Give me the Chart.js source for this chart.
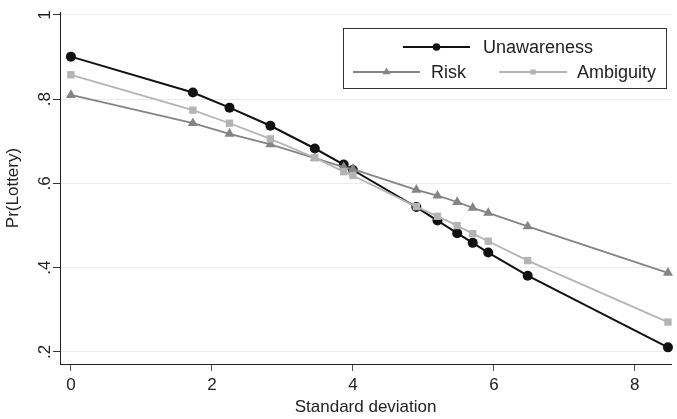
<!DOCTYPE html>
<html><head><meta charset="utf-8">
<script src="https://cdn.jsdelivr.net/npm/chart.js@4.4.1/dist/chart.umd.min.js"></script>
<style>html,body{margin:0;padding:0;background:#fff;overflow:hidden}canvas{display:block}</style>
</head><body>
<canvas id="c" width="677" height="419"></canvas>
<script>
// ---- data ----
const sdValues    = [0, 1.73, 2.25, 2.83, 3.46, 3.87, 4.00, 4.90, 5.20, 5.48, 5.70, 5.92, 6.48, 8.47];
const unawareness = [0.901, 0.816, 0.780, 0.737, 0.683, 0.645, 0.632, 0.544, 0.512, 0.482, 0.459, 0.436, 0.381, 0.211];
const risk        = [0.810, 0.743, 0.718, 0.693, 0.660, 0.639, 0.634, 0.585, 0.571, 0.556, 0.542, 0.530, 0.498, 0.388];
const ambiguity   = [0.858, 0.774, 0.743, 0.706, 0.661, 0.628, 0.619, 0.545, 0.522, 0.500, 0.481, 0.463, 0.417, 0.271];
const seriesNames = ['Unawareness', 'Risk', 'Ambiguity'];
const xTicks = [0, 2, 4, 6, 8];
const yTicks = [0.2, 0.4, 0.6, 0.8, 1];
const yTickLabels = ['.2', '.4', '.6', '.8', '1'];
const xTitle = 'Standard deviation';
const yTitle = 'Pr(Lottery)';

const FONT = "'Liberation Sans', Arial, sans-serif";
const TXT = '#222';

function pts(ys) { return sdValues.map((x, i) => ({x: x, y: ys[i]})); }

const legendPlugin = {
  id: 'boxLegend',
  afterDraw(chart) {
    const ctx = chart.ctx;
    const ds = chart.data.datasets;
    ctx.save();
    const bx = 343.5, by = 28.5, bw = 323, bh = 60;
    ctx.fillStyle = '#fff';
    ctx.fillRect(bx, by, bw, bh);
    ctx.strokeStyle = '#333';
    ctx.lineWidth = 1;
    ctx.strokeRect(bx, by, bw, bh);
    const items = [
      {i: 0, x1: 403, x2: 470, y: 47, tx: 483, r: 3.8},
      {i: 1, x1: 353, x2: 420, y: 72, tx: 431, r: 4.6},
      {i: 2, x1: 499, x2: 567, y: 72, tx: 577, r: 3.6}
    ];
    items.forEach(it => {
      const d = ds[it.i];
      ctx.strokeStyle = d.borderColor;
      ctx.lineWidth = d.borderWidth;
      ctx.beginPath();
      ctx.moveTo(it.x1, it.y);
      ctx.lineTo(it.x2, it.y);
      ctx.stroke();
      ctx.fillStyle = d.pointBackgroundColor;
      Chart.helpers.drawPoint(ctx, {pointStyle: d.pointStyle, radius: it.r, borderWidth: 0, rotation: 0}, (it.x1 + it.x2) / 2, it.y);
      ctx.fillStyle = TXT;
      ctx.font = '18px ' + FONT;
      ctx.textAlign = 'left';
      ctx.textBaseline = 'middle';
      ctx.fillText(d.label, it.tx, it.y + 1);
    });
    ctx.restore();
  }
};

new Chart(document.getElementById('c'), {
  type: 'line',
  data: {
    datasets: [
      {label: seriesNames[0], data: pts(unawareness), borderColor: '#111', borderWidth: 2,
       pointStyle: 'circle', pointRadius: 5, pointBorderWidth: 0, pointBackgroundColor: '#111', order: 3},
      {label: seriesNames[1], data: pts(risk), borderColor: '#848484', borderWidth: 1.8,
       pointStyle: 'triangle', pointRadius: 5.8, pointBorderWidth: 0, pointBackgroundColor: '#848484', order: 2},
      {label: seriesNames[2], data: pts(ambiguity), borderColor: '#b4b4b4', borderWidth: 1.8,
       pointStyle: 'rect', pointRadius: 5.2, pointBorderWidth: 0, pointBackgroundColor: '#b4b4b4', order: 1}
    ]
  },
  options: {
    responsive: false,
    animation: false,
    clip: false,
    layout: {padding: {top: 12, right: 0, left: 0, bottom: 0}},
    plugins: {legend: {display: false}, tooltip: {enabled: false}},
    elements: {line: {tension: 0}},
    scales: {
      x: {
        type: 'linear',
        min: -0.155, max: 8.516,
        afterBuildTicks: s => { s.ticks = xTicks.map(v => ({value: v})); },
        afterFit: s => { s.height = 55; },
        ticks: {color: TXT, font: {family: FONT, size: 17}, padding: 4, maxRotation: 0,
                callback: v => String(v)},
        grid: {drawOnChartArea: false, drawTicks: true, tickLength: 7, tickColor: '#555', tickWidth: 1},
        border: {display: true, color: '#222', width: 1},
        title: {display: true, text: xTitle, color: TXT, font: {family: FONT, size: 17},
                padding: {top: 0, bottom: 1}}
      },
      y: {
        type: 'linear',
        min: 0.1715, max: 1.007,
        afterBuildTicks: s => { s.ticks = yTicks.map(v => ({value: v})); },
        afterFit: s => { s.width = 60; },
        ticks: {color: TXT, font: {family: FONT, size: 17}, padding: 1, minRotation: 90, maxRotation: 90,
                crossAlign: 'center',
                callback: v => { const k = yTicks.findIndex(t => Math.abs(t - v) < 1e-9); return k >= 0 ? yTickLabels[k] : ''; }},
        grid: {color: '#ececec', lineWidth: 1, drawTicks: true, tickLength: 7, tickColor: '#333', tickWidth: 1},
        border: {display: true, color: '#222', width: 1},
        title: {display: true, text: yTitle, color: TXT, font: {family: FONT, size: 17},
                padding: {top: 3, bottom: 0}}
      }
    }
  },
  plugins: [legendPlugin]
});
</script>
</body></html>
